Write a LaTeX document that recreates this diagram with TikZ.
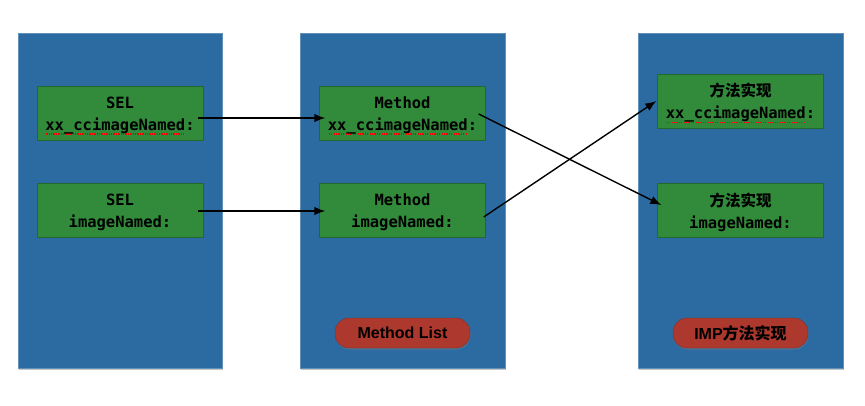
\documentclass[tikz,border=0pt]{standalone}
\usepackage{fontspec}
\setmonofont{DejaVu Sans Mono}
\newfontfamily\cjk{Noto Sans CJK SC}
\newfontfamily\pillfont{Liberation Sans}
\usetikzlibrary{shadows,arrows.meta,calc}
\definecolor{panelblue}{RGB}{44,107,161}
\definecolor{boxgreen}{RGB}{49,139,58}
\definecolor{pillred}{RGB}{172,56,46}
\newsavebox\spellbox
\newcommand\spellmark[1]{\sbox\spellbox{#1}\rlap{\textcolor{red}{\raisebox{-4.2pt}{\hbox to \wd\spellbox{\cleaders\hbox to 2.4pt{\hss\rule{1.3pt}{1.5pt}\hss}\hfill}}}}\usebox\spellbox}
\newcommand\topstrut{\rule{0pt}{17pt}}
\tikzset{
  panel/.style={fill=panelblue, draw=panelblue!75!white, line width=0.6pt,
    minimum height=335pt, inner sep=0pt,
    drop shadow={shadow xshift=0.5pt, shadow yshift=-1.8pt, opacity=0.45}},
  selbox/.style={fill=boxgreen, draw=boxgreen!75!black, line width=0.4pt,
    minimum width=166pt, minimum height=54pt, inner sep=0pt, align=center,
    font=\fontsize{15.5}{22}\selectfont\ttfamily\bfseries},
  pill/.style={fill=pillred, draw=pillred!80!black, line width=0.4pt,
    rounded corners=14pt, minimum width=135pt, minimum height=30pt, inner sep=0pt,
    font=\fontsize{16}{18}\selectfont\pillfont\bfseries,
    drop shadow={shadow xshift=0.5pt, shadow yshift=-1.5pt, opacity=0.4}},
  conn/.style={-{Latex[length=11pt,width=8.5pt]}, line width=1.4pt, black}
}
\begin{document}
\begin{tikzpicture}[x=1pt,y=-1pt]
\useasboundingbox[fill=white] (0,0) rectangle (865,405);
% panels
\node[panel, minimum width=204pt] (pL) at (120,200.5) {};
\node[panel, minimum width=205pt] (pM) at (402.5,200.5) {};
\node[panel, minimum width=205pt] (pR) at (740.5,200.5) {};
% left column
\node[selbox] (l1) at (120,113) {\topstrut SEL\\\spellmark{xx\_ccimageNamed}:};
\node[selbox] (l2) at (120,210) {\topstrut SEL\\imageNamed:};
% middle column
\node[selbox] (m1) at (402.5,113) {\topstrut Method\\\spellmark{xx\_ccimageNamed}:};
\node[selbox] (m2) at (402.5,210) {\topstrut Method\\imageNamed:};
% right column
\node[selbox] (r1) at (740.5,101.5) {\topstrut{\cjk\bfseries 方法实现}\\\spellmark{xx\_ccimageNamed}:};
\node[selbox] (r2) at (740.5,210.5) {\topstrut{\cjk\bfseries 方法实现}\\imageNamed:};
% pills
\node[pill] (ml) at (402.5,333) {Method List};
\node[pill] (imp) at (740.5,333) {IMP{\cjk\bfseries 方法实现}};
% connectors
\draw[conn] ([shift={(-5,5)}]l1.east) -- ([shift={(6,5)}]m1.west);
\draw[conn] ([shift={(-5,1)}]l2.east) -- ([shift={(6,1)}]m2.west);
\draw[conn] ([shift={(-7,1)}]m1.east) -- ([shift={(4,-5.5)}]r2.west);
\draw[conn] ([shift={(-2,7)}]m2.east) -- ([shift={(-1,-0.5)}]r1.west);
\end{tikzpicture}
\end{document}
